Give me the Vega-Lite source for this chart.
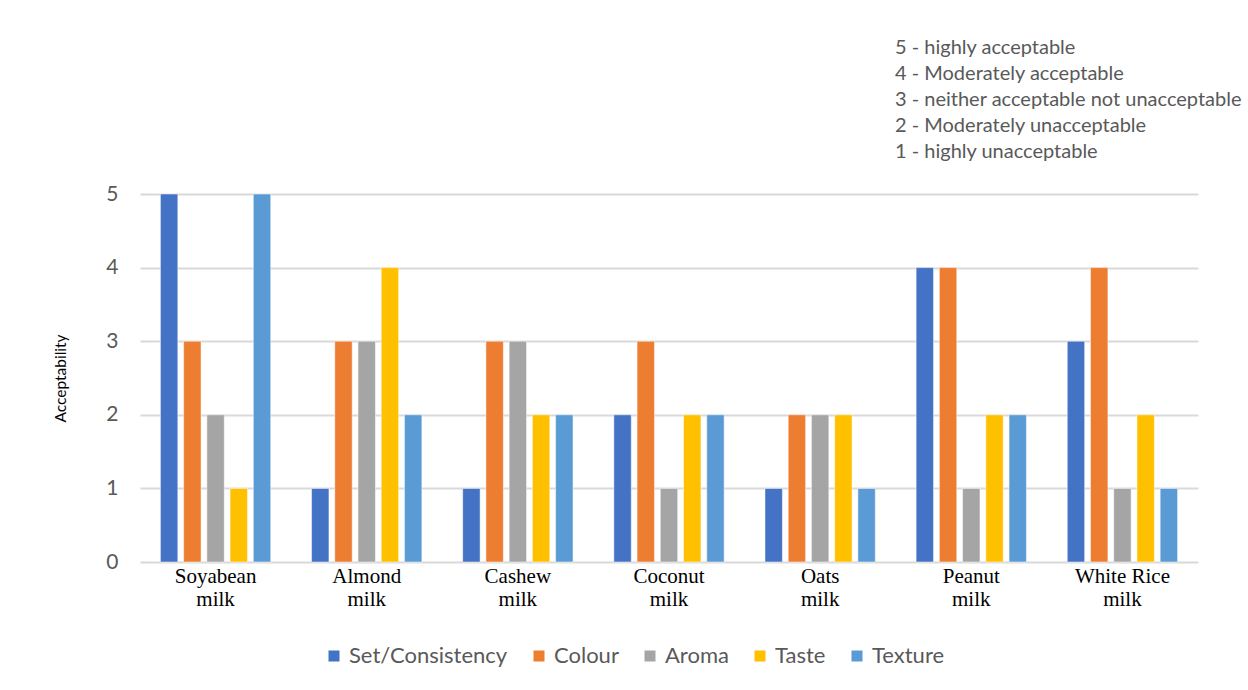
{
  "$schema": "https://vega.github.io/schema/vega-lite/v6.json",
  "width": 1058,
  "height": 368,
  "autosize": {"type": "none"},
  "padding": {"left": 140, "top": 194, "right": 50, "bottom": 128},
  "background": "white",
  "title": {
    "text": [
      "5 - highly acceptable",
      "4 - Moderately acceptable",
      "3 - neither acceptable not unacceptable",
      "2 - Moderately unacceptable",
      "1 - highly unacceptable"
    ],
    "anchor": "start",
    "frame": "group",
    "align": "left",
    "dx": 755,
    "offset": 21,
    "fontSize": 20,
    "fontWeight": "normal",
    "font": "Lato",
    "color": "#595959",
    "lineHeight": 26
  },
  "data": {
    "values": [
      {"milk": "Soyabean milk", "attribute": "Set/Consistency", "score": 5},
      {"milk": "Soyabean milk", "attribute": "Colour", "score": 3},
      {"milk": "Soyabean milk", "attribute": "Aroma", "score": 2},
      {"milk": "Soyabean milk", "attribute": "Taste", "score": 1},
      {"milk": "Soyabean milk", "attribute": "Texture", "score": 5},
      {"milk": "Almond milk", "attribute": "Set/Consistency", "score": 1},
      {"milk": "Almond milk", "attribute": "Colour", "score": 3},
      {"milk": "Almond milk", "attribute": "Aroma", "score": 3},
      {"milk": "Almond milk", "attribute": "Taste", "score": 4},
      {"milk": "Almond milk", "attribute": "Texture", "score": 2},
      {"milk": "Cashew milk", "attribute": "Set/Consistency", "score": 1},
      {"milk": "Cashew milk", "attribute": "Colour", "score": 3},
      {"milk": "Cashew milk", "attribute": "Aroma", "score": 3},
      {"milk": "Cashew milk", "attribute": "Taste", "score": 2},
      {"milk": "Cashew milk", "attribute": "Texture", "score": 2},
      {"milk": "Coconut milk", "attribute": "Set/Consistency", "score": 2},
      {"milk": "Coconut milk", "attribute": "Colour", "score": 3},
      {"milk": "Coconut milk", "attribute": "Aroma", "score": 1},
      {"milk": "Coconut milk", "attribute": "Taste", "score": 2},
      {"milk": "Coconut milk", "attribute": "Texture", "score": 2},
      {"milk": "Oats milk", "attribute": "Set/Consistency", "score": 1},
      {"milk": "Oats milk", "attribute": "Colour", "score": 2},
      {"milk": "Oats milk", "attribute": "Aroma", "score": 2},
      {"milk": "Oats milk", "attribute": "Taste", "score": 2},
      {"milk": "Oats milk", "attribute": "Texture", "score": 1},
      {"milk": "Peanut milk", "attribute": "Set/Consistency", "score": 4},
      {"milk": "Peanut milk", "attribute": "Colour", "score": 4},
      {"milk": "Peanut milk", "attribute": "Aroma", "score": 1},
      {"milk": "Peanut milk", "attribute": "Taste", "score": 2},
      {"milk": "Peanut milk", "attribute": "Texture", "score": 2},
      {"milk": "White Rice milk", "attribute": "Set/Consistency", "score": 3},
      {"milk": "White Rice milk", "attribute": "Colour", "score": 4},
      {"milk": "White Rice milk", "attribute": "Aroma", "score": 1},
      {"milk": "White Rice milk", "attribute": "Taste", "score": 2},
      {"milk": "White Rice milk", "attribute": "Texture", "score": 1}
    ]
  },
  "mark": {"type": "bar", "stroke": "white", "strokeWidth": 0.5},
  "encoding": {
    "x": {
      "field": "milk",
      "type": "nominal",
      "sort": null,
      "scale": {"paddingInner": 0.27, "paddingOuter": 0.135},
      "axis": {
        "title": null,
        "labelAngle": 0,
        "domain": false,
        "ticks": false,
        "labelFont": "Liberation Serif",
        "labelFontSize": 21,
        "labelColor": "#000000",
        "labelPadding": 3,
        "labelBaseline": "top",
        "labelLineHeight": 23,
        "labelExpr": "[substring(datum.label, 0, lastindexof(datum.label, ' ')), substring(datum.label, lastindexof(datum.label, ' ') + 1)]"
      }
    },
    "xOffset": {
      "field": "attribute",
      "type": "nominal",
      "sort": ["Set/Consistency", "Colour", "Aroma", "Taste", "Texture"],
      "scale": {"paddingInner": 0.25, "paddingOuter": 0}
    },
    "y": {
      "field": "score",
      "type": "quantitative",
      "scale": {"domain": [0, 5], "nice": false},
      "axis": {
        "title": "Acceptability",
        "titleFont": "Lato",
        "titleFontSize": 15.5,
        "titleFontWeight": "normal",
        "titleColor": "#000000",
        "titlePadding": 37,
        "values": [0, 1, 2, 3, 4, 5],
        "format": "d",
        "domain": false,
        "ticks": false,
        "labelFont": "Lato",
        "labelFontSize": 21,
        "labelColor": "#595959",
        "labelPadding": 22,
        "grid": true,
        "gridColor": "#d9d9d9",
        "gridWidth": 2
      }
    },
    "color": {
      "field": "attribute",
      "type": "nominal",
      "sort": ["Set/Consistency", "Colour", "Aroma", "Taste", "Texture"],
      "scale": {
        "domain": ["Set/Consistency", "Colour", "Aroma", "Taste", "Texture"],
        "range": ["#4472C4", "#ED7D31", "#A5A5A5", "#FFC000", "#5B9BD5"]
      },
      "legend": {
        "title": null,
        "orient": "none",
        "direction": "horizontal",
        "legendX": 183,
        "legendY": 451,
        "symbolType": "square",
        "symbolSize": 121,
        "symbolStrokeWidth": 0,
        "labelFont": "Lato",
        "labelFontSize": 22,
        "labelColor": "#595959",
        "labelOffset": 4,
        "columnPadding": 20
      }
    }
  },
  "config": {
    "view": {"stroke": null},
    "font": "Lato"
  }
}
